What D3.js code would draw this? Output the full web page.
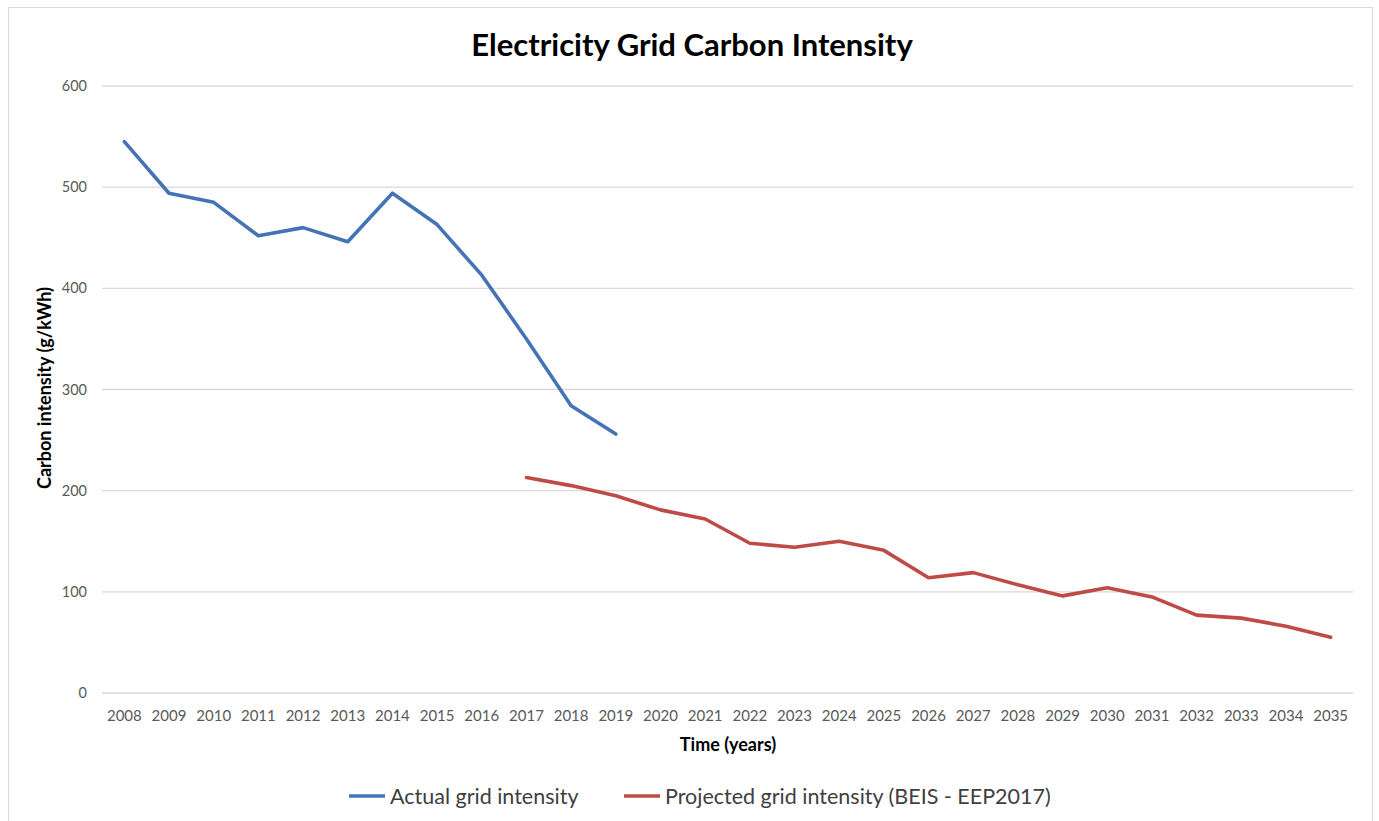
<!DOCTYPE html>
<html>
<head>
<meta charset="utf-8">
<script src="https://cdn.jsdelivr.net/npm/d3@7"></script>
<style>
  html, body { margin: 0; padding: 0; background: #fff; }
  svg { display: block; }
</style>
</head>
<body>
<svg id="chart" width="1379" height="821"></svg>
<script>
// Years on the category axis
const years = d3.range(2008, 2036).map(String);

// Actual grid carbon intensity, g/kWh (2008–2019)
const actualYears = ["2008","2009","2010","2011","2012","2013","2014","2015","2016","2017","2018","2019"];
const actualValues = [545, 494, 485, 452, 460, 446, 494, 463, 413, 350, 284, 256];

// Projected grid intensity, BEIS EEP2017 (2017–2035)
const projectedYears = ["2017","2018","2019","2020","2021","2022","2023","2024","2025","2026","2027","2028","2029","2030","2031","2032","2033","2034","2035"];
const projectedValues = [213, 205, 195, 181, 172, 148, 144, 150, 141, 114, 119, 107, 96, 104, 95, 77, 74, 66, 55];

const yTicks = [0, 100, 200, 300, 400, 500, 600];

const title = "Electricity Grid Carbon Intensity";
const xTitle = "Time (years)";
const yTitle = "Carbon intensity (g/kWh)";
const seriesNames = ["Actual grid intensity", "Projected grid intensity (BEIS - EEP2017)"];
const seriesColors = ["#4573B5", "#BE4B48"];

const font = "Lato, 'Open Sans', sans-serif";
const svg = d3.select("#chart");

// Chart frame
svg.append("rect")
  .attr("x", 8.5).attr("y", 7.5)
  .attr("width", 1364).attr("height", 830)
  .attr("fill", "#fff").attr("stroke", "#d9d9d9").attr("stroke-width", 1);

const x = d3.scaleBand().domain(years).range([102, 1353]);
const y = d3.scaleLinear().domain([0, 600]).range([693, 86]);
const cx = d => x(d) + x.bandwidth() / 2;

// Horizontal gridlines
svg.append("g")
  .selectAll("line")
  .data(yTicks)
  .join("line")
  .attr("x1", 102).attr("x2", 1353)
  .attr("y1", d => y(d)).attr("y2", d => y(d))
  .attr("stroke", "#d9d9d9").attr("stroke-width", 1.3);

// Y axis labels
const yAxis = d3.axisLeft(y).tickValues(yTicks).tickSize(0).tickPadding(15);
svg.append("g")
  .attr("transform", "translate(102,0)")
  .call(yAxis)
  .call(g => g.select(".domain").remove())
  .call(g => g.selectAll("text")
    .attr("font-family", font).attr("font-size", 14.5).attr("fill", "#595959"));

// X axis labels
const xAxis = d3.axisBottom(x).tickSize(0).tickPadding(17);
svg.append("g")
  .attr("transform", "translate(0,693)")
  .call(xAxis)
  .call(g => g.select(".domain").remove())
  .call(g => g.selectAll("text")
    .attr("font-family", font).attr("font-size", 15).attr("fill", "#595959"));

// Series lines
const line = d3.line().x(d => cx(d[0])).y(d => y(d[1]));
const series = [
  d3.zip(actualYears, actualValues),
  d3.zip(projectedYears, projectedValues)
];
svg.append("g")
  .selectAll("path")
  .data(series)
  .join("path")
  .attr("d", line)
  .attr("fill", "none")
  .attr("stroke", (d, i) => seriesColors[i])
  .attr("stroke-width", 3.6)
  .attr("stroke-linejoin", "round")
  .attr("stroke-linecap", "round");

// Title
svg.append("text")
  .attr("x", 692).attr("y", 56)
  .attr("text-anchor", "middle")
  .attr("font-family", font).attr("font-weight", "bold").attr("font-size", 31)
  .attr("fill", "#000")
  .text(title);

// Axis titles
svg.append("text")
  .attr("x", 728).attr("y", 751)
  .attr("text-anchor", "middle")
  .attr("font-family", font).attr("font-weight", "bold").attr("font-size", 18)
  .attr("fill", "#000")
  .text(xTitle);

svg.append("text")
  .attr("transform", "translate(51,388) rotate(-90)")
  .attr("text-anchor", "middle")
  .attr("font-family", font).attr("font-weight", "bold").attr("font-size", 18)
  .attr("fill", "#000")
  .text(yTitle);

// Legend
const legendX = [349, 624];
const legend = svg.append("g")
  .selectAll("g")
  .data(seriesNames)
  .join("g")
  .attr("transform", (d, i) => `translate(${legendX[i]},796)`);
legend.append("line")
  .attr("x1", 0).attr("x2", 36)
  .attr("stroke", (d, i) => seriesColors[i])
  .attr("stroke-width", 3.6);
legend.append("text")
  .attr("x", 41).attr("y", 8)
  .attr("font-family", font).attr("font-size", 21.5)
  .attr("fill", "#404040")
  .text(d => d);
</script>
</body>
</html>
